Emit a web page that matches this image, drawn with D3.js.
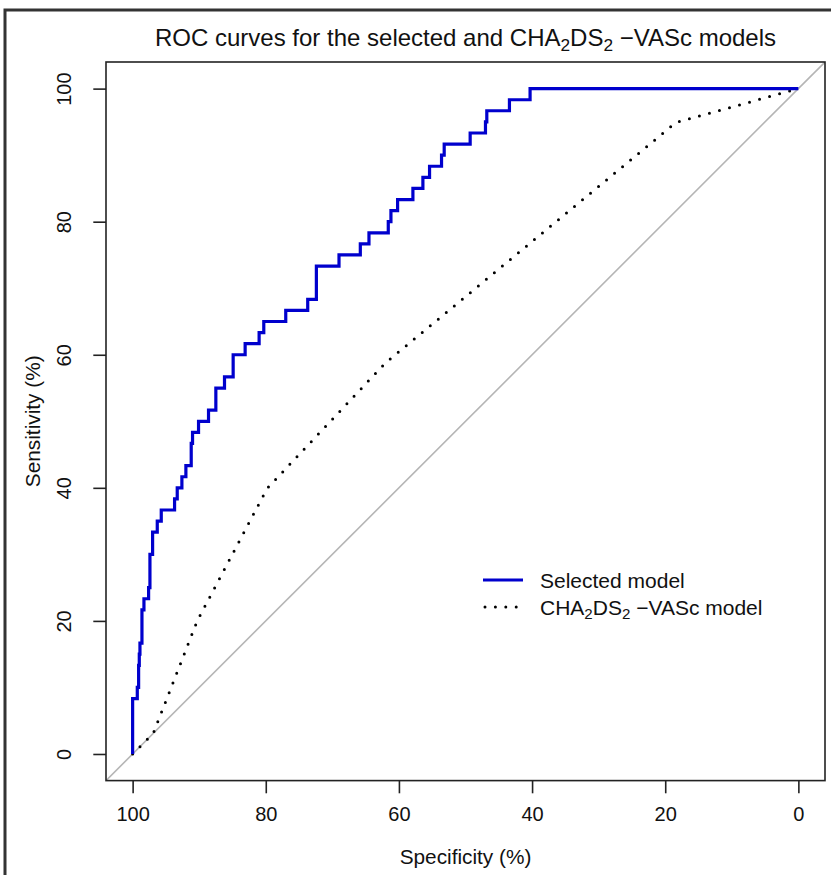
<!DOCTYPE html>
<html>
<head>
<meta charset="utf-8">
<script src="https://cdn.jsdelivr.net/npm/d3@7"></script>
<style>
  body { margin: 0; background: #fff; }
  text { font-family: "Liberation Sans", Arial, sans-serif; fill: #111; }
</style>
</head>
<body>
<div id="chart"></div>
<script>
// ROC curves: selected model (step curve) vs CHA2DS2-VASc score

// selected model, ROC points (specificity %, sensitivity %)
let selSpec = [100, 100, 99.3, 99.1, 99.0, 98.9, 98.6, 98.3, 97.6, 97.4, 97.0, 96.3, 95.7,
  93.7, 93.3, 92.6, 92.0, 91.2, 91.0, 90.1, 88.6, 87.5, 86.2, 84.9, 83.1, 81.0, 80.3,
  77.0, 73.7, 72.4, 69.0, 65.8, 64.5, 61.6, 61.2, 60.2, 57.9, 56.4, 55.4, 53.6, 53.2,
  49.3, 47.0, 46.8, 43.4, 40.3, 0];
let selSens = [0, 8.33, 10, 13.33, 15, 16.67, 21.67, 23.33, 25, 30, 33.33, 35, 36.67,
  38.33, 40, 41.67, 43.33, 46.67, 48.33, 50, 51.67, 55, 56.67, 60, 61.67, 63.33, 65,
  66.67, 68.33, 73.33, 75, 76.67, 78.33, 80, 81.67, 83.33, 85, 86.67, 88.33, 90, 91.67,
  93.33, 95, 96.67, 98.33, 100, 100];

// CHA2DS2-VASc model, ROC points
let chaSpec = [100, 96.9, 90.3, 79.8, 62.0, 18.4, 0];
let chaSens = [0, 3.1, 20.0, 39.9, 58.8, 94.9, 100];

let tickVals = [100, 80, 60, 40, 20, 0];

let svgWidth = 831;
let svgHeight = 875;

let plot = { left: 106, right: 825, top: 62, bottom: 780.6 };

let svg = d3.select('#chart').append('svg')
  .attr('width', svgWidth)
  .attr('height', svgHeight);

// outer frame of the screenshot (left and top edges)
svg.append('path')
  .attr('d', `M5,${svgHeight} L5,10 L${svgWidth},10`)
  .attr('fill', 'none')
  .attr('stroke', '#333')
  .attr('stroke-width', 3);

let x = d3.scaleLinear().domain([104, -4]).range([plot.left, plot.right]);
let y = d3.scaleLinear().domain([-4, 104]).range([plot.bottom, plot.top]);

svg.append('clipPath').attr('id', 'clip')
  .append('rect')
  .attr('x', plot.left).attr('y', plot.top)
  .attr('width', plot.right - plot.left).attr('height', plot.bottom - plot.top);

// chance diagonal
svg.append('line')
  .attr('clip-path', 'url(#clip)')
  .attr('x1', x(104)).attr('y1', y(-4))
  .attr('x2', x(-4)).attr('y2', y(104))
  .attr('stroke', '#b5b5b5')
  .attr('stroke-width', 1.6);

// CHA2DS2-VASc curve, dotted
let chaLine = d3.line()
  .x(d => x(d[0]))
  .y(d => y(d[1]));

svg.append('path')
  .datum(d3.zip(chaSpec, chaSens))
  .attr('d', chaLine)
  .attr('fill', 'none')
  .attr('stroke', '#000')
  .attr('stroke-width', 3)
  .attr('stroke-linecap', 'round')
  .attr('stroke-dasharray', '0 10.4');

// selected model curve, stepped
let selLine = d3.line()
  .x(d => x(d[0]))
  .y(d => y(d[1]))
  .curve(d3.curveStepAfter);

svg.append('path')
  .datum(d3.zip(selSpec, selSens))
  .attr('d', selLine)
  .attr('fill', 'none')
  .attr('stroke', '#0000cd')
  .attr('stroke-width', 3.2);

// box
svg.append('rect')
  .attr('x', plot.left).attr('y', plot.top)
  .attr('width', plot.right - plot.left).attr('height', plot.bottom - plot.top)
  .attr('fill', 'none')
  .attr('stroke', '#222')
  .attr('stroke-width', 1.6);

// axes
let xAxis = svg.append('g')
  .attr('transform', `translate(0, ${plot.bottom})`)
  .call(d3.axisBottom(x).tickValues(tickVals).tickSize(12.7).tickPadding(14));

let yAxis = svg.append('g')
  .attr('transform', `translate(${plot.left}, 0)`)
  .call(d3.axisLeft(y).tickValues(tickVals).tickSize(12.7).tickPadding(0));

[xAxis, yAxis].forEach(g => {
  g.select('.domain').remove();
  g.selectAll('.tick line').attr('stroke', '#222').attr('stroke-width', 1.6);
  g.selectAll('.tick text').style('font-size', '20px').attr('fill', '#111');
});

// y tick labels parallel to the axis
yAxis.selectAll('.tick text')
  .attr('x', null).attr('dy', null)
  .attr('text-anchor', 'middle')
  .attr('transform', 'translate(-28, 0) rotate(-90) translate(0, -7)');

// axis titles
svg.append('text')
  .attr('x', (plot.left + plot.right) / 2)
  .attr('y', 864)
  .attr('text-anchor', 'middle')
  .style('font-size', '20.8px')
  .text('Specificity (%)');

svg.append('text')
  .attr('transform', `translate(40, ${(plot.top + plot.bottom) / 2}) rotate(-90)`)
  .attr('text-anchor', 'middle')
  .style('font-size', '20.8px')
  .text('Sensitivity (%)');

// writes "CHA2DS2 -VASc" with subscripts into a text element
function chaText(sel, size, tail) {
  sel.append('tspan').text('CHA');
  sel.append('tspan').text('2').style('font-size', size * 0.72 + 'px').attr('dy', size * 0.22);
  sel.append('tspan').text('DS').attr('dy', -size * 0.22);
  sel.append('tspan').text('2').style('font-size', size * 0.72 + 'px').attr('dy', size * 0.22);
  sel.append('tspan').text(' \u2212VASc' + tail).attr('dy', -size * 0.22);
}

// title
let title = svg.append('text')
  .attr('x', (plot.left + plot.right) / 2)
  .attr('y', 46)
  .attr('text-anchor', 'middle')
  .style('font-size', '24px');
title.append('tspan').text('ROC curves for the selected and ');
chaText(title, 24, ' models');

// legend
let legend = svg.append('g');

legend.append('line')
  .attr('x1', 483).attr('x2', 523)
  .attr('y1', 580).attr('y2', 580)
  .attr('stroke', '#0000cd')
  .attr('stroke-width', 3.2);

legend.append('line')
  .attr('x1', 485).attr('x2', 522)
  .attr('y1', 607).attr('y2', 607)
  .attr('stroke', '#000')
  .attr('stroke-width', 3)
  .attr('stroke-linecap', 'round')
  .attr('stroke-dasharray', '0 10.4');

legend.append('text')
  .attr('x', 540).attr('y', 587.5)
  .style('font-size', '21px')
  .text('Selected model');

let legText = legend.append('text')
  .attr('x', 540).attr('y', 614.5)
  .style('font-size', '21px');
chaText(legText, 21, ' model');
</script>
</body>
</html>
